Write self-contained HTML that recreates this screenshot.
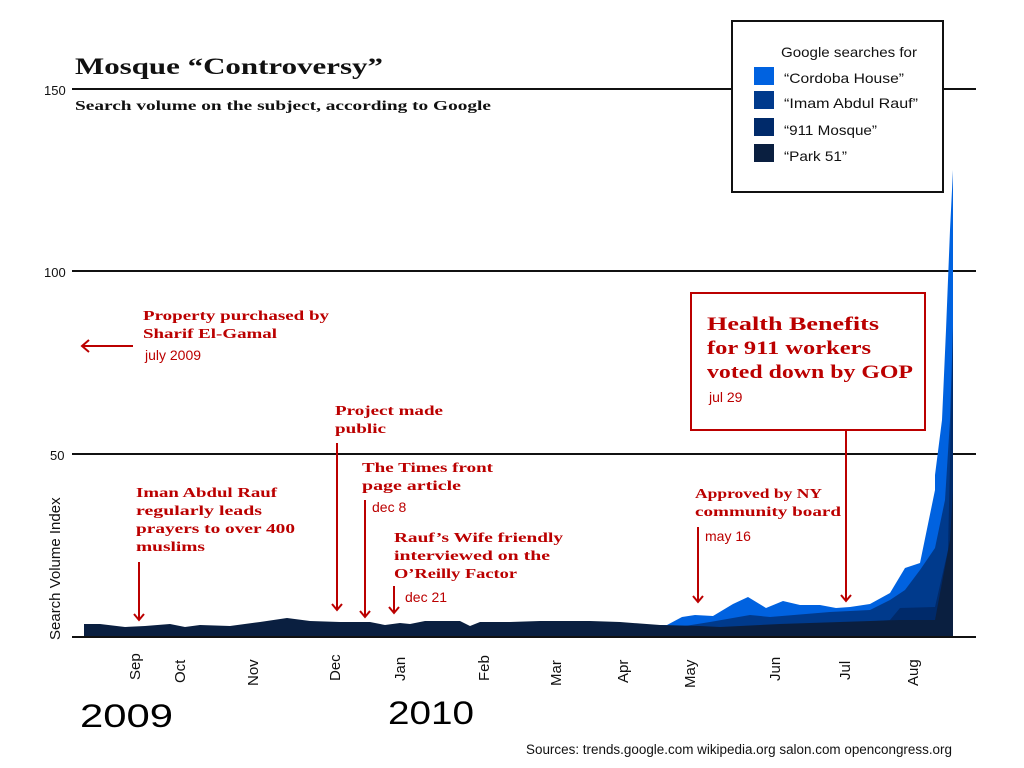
<!DOCTYPE html>
<html><head><meta charset="utf-8"><style>
html,body{margin:0;padding:0;background:#fff;}
svg{display:block;}
.s{font-family:"Liberation Serif",serif;font-weight:bold;}
.h{font-family:"Liberation Sans",sans-serif;}
.r{fill:#bb0000;}
</style></head><body>
<svg width="1024" height="768" viewBox="0 0 1024 768" xmlns="http://www.w3.org/2000/svg">
<g stroke="#111" stroke-width="2" fill="none">
<line x1="72" y1="89" x2="976" y2="89"/>
<line x1="72" y1="271" x2="976" y2="271"/>
<line x1="72" y1="454" x2="976" y2="454"/>
</g>
<g class="h" font-size="13" fill="#111">
<text x="44" y="95">150</text><text x="44" y="277">100</text><text x="50" y="460">50</text>
</g>
<text x="60" y="640" class="h" font-size="15" fill="#111" transform="rotate(-90 60 640)">Search Volume Index</text>
<text x="75" y="74" class="s" font-size="23" fill="#111" textLength="308" lengthAdjust="spacingAndGlyphs">Mosque “Controversy”</text>
<text x="75" y="110" class="s" font-size="14" fill="#111" textLength="416" lengthAdjust="spacingAndGlyphs">Search volume on the subject, according to Google</text>
<!-- areas -->
<polygon fill="#0062e0" points="84,636 655,636 660,625 667,625 682,617 695,615 713,616 733,604 748,597 766,608 783,601 800,605 820,605 836,608 850,607 870,604 890,593 905,568 920,563 935,490 935,475 942,420 946,330 950,230 953,170 953,636"/>
<polygon fill="#003a8c" points="84,636 655,636 660,630 710,622 750,615 770,617 830,612 870,610 890,600 905,590 920,570 935,548 945,500 950,420 953,326 953,636"/>
<polygon fill="#002a6a" points="84,636 655,636 660,632 760,628 800,625 860,622 890,620 900,608 935,607 948,550 953,330 953,636"/>
<polygon fill="#0a1f40" points="84,636 84,624 100,624 125,627 145,626 170,624 185,627 200,625 230,626 260,622 287,618 310,621 340,622 370,622 385,625 400,623 410,624 425,621 460,621 470,626 480,622 510,622 540,621 590,621 620,622 660,625 700,626 720,627 780,624 840,622 900,620 935,620 950,540 953,490 953,636"/>
<line x1="72" y1="637" x2="976" y2="637" stroke="#111" stroke-width="2"/>
<!-- x labels -->
<g class="h" font-size="15" fill="#111">
<text transform="translate(140,680) rotate(-90)">Sep</text>
<text transform="translate(185,683) rotate(-90)">Oct</text>
<text transform="translate(258,686) rotate(-90)">Nov</text>
<text transform="translate(340,681) rotate(-90)">Dec</text>
<text transform="translate(405,681) rotate(-90)">Jan</text>
<text transform="translate(489,681) rotate(-90)">Feb</text>
<text transform="translate(561,686) rotate(-90)">Mar</text>
<text transform="translate(628,683) rotate(-90)">Apr</text>
<text transform="translate(695,688) rotate(-90)">May</text>
<text transform="translate(780,681) rotate(-90)">Jun</text>
<text transform="translate(850,680) rotate(-90)">Jul</text>
<text transform="translate(918,686) rotate(-90)">Aug</text>
</g>
<text x="80" y="727" class="h" font-size="32" fill="#000" textLength="93" lengthAdjust="spacingAndGlyphs">2009</text>
<text x="388" y="724" class="h" font-size="32" fill="#000" textLength="86" lengthAdjust="spacingAndGlyphs">2010</text>
<text x="526" y="754" class="h" font-size="13.5" fill="#111" textLength="426" lengthAdjust="spacingAndGlyphs">Sources: trends.google.com wikipedia.org salon.com opencongress.org</text>
<!-- legend -->
<rect x="732" y="21" width="211" height="171" fill="#fff" stroke="#111" stroke-width="2"/>
<text x="781" y="57" class="h" font-size="14" fill="#111" textLength="136" lengthAdjust="spacingAndGlyphs">Google searches for</text>
<rect x="754" y="67" width="20" height="18" fill="#0062e0"/><text x="784" y="83" class="h" font-size="14" fill="#111" textLength="120" lengthAdjust="spacingAndGlyphs">“Cordoba House”</text>
<rect x="754" y="91" width="20" height="18" fill="#003a8c"/><text x="784" y="108" class="h" font-size="14" fill="#111" textLength="134" lengthAdjust="spacingAndGlyphs">“Imam Abdul Rauf”</text>
<rect x="754" y="118" width="20" height="18" fill="#002a6a"/><text x="784" y="135" class="h" font-size="14" fill="#111" textLength="93" lengthAdjust="spacingAndGlyphs">“911 Mosque”</text>
<rect x="754" y="144" width="20" height="18" fill="#0a1f40"/><text x="784" y="161" class="h" font-size="14" fill="#111" textLength="63" lengthAdjust="spacingAndGlyphs">“Park 51”</text>
<!-- annotations -->
<g class="s r" font-size="14" lengthAdjust="spacingAndGlyphs">
<text x="143" y="320" textLength="186" lengthAdjust="spacingAndGlyphs">Property purchased by</text><text x="143" y="338" textLength="134" lengthAdjust="spacingAndGlyphs">Sharif El-Gamal</text>
<text x="136" y="497" textLength="141" lengthAdjust="spacingAndGlyphs">Iman Abdul Rauf</text><text x="136" y="515" textLength="126" lengthAdjust="spacingAndGlyphs">regularly leads</text><text x="136" y="533" textLength="159" lengthAdjust="spacingAndGlyphs">prayers to over 400</text><text x="136" y="551" textLength="69" lengthAdjust="spacingAndGlyphs">muslims</text>
<text x="335" y="415" textLength="108" lengthAdjust="spacingAndGlyphs">Project made</text><text x="335" y="433" textLength="51" lengthAdjust="spacingAndGlyphs">public</text>
<text x="362" y="472" textLength="131" lengthAdjust="spacingAndGlyphs">The Times front</text><text x="362" y="490" textLength="99" lengthAdjust="spacingAndGlyphs">page article</text>
<text x="394" y="542" textLength="169" lengthAdjust="spacingAndGlyphs">Rauf’s Wife friendly</text><text x="394" y="560" textLength="156" lengthAdjust="spacingAndGlyphs">interviewed on the</text><text x="394" y="578" textLength="123" lengthAdjust="spacingAndGlyphs">O’Reilly Factor</text>
<text x="695" y="498" textLength="127" lengthAdjust="spacingAndGlyphs">Approved by NY</text><text x="695" y="516" textLength="146" lengthAdjust="spacingAndGlyphs">community board</text>
</g>
<g class="h r" font-size="14">
<text x="145" y="360">july 2009</text>
<text x="372" y="512">dec 8</text>
<text x="405" y="602">dec 21</text>
<text x="705" y="541">may 16</text>
<text x="709" y="402">jul 29</text>
</g>
<rect x="691" y="293" width="234" height="137" fill="none" stroke="#bb0000" stroke-width="2"/>
<g class="s r" font-size="19">
<text x="707" y="330" textLength="172" lengthAdjust="spacingAndGlyphs">Health Benefits</text><text x="707" y="354" textLength="164" lengthAdjust="spacingAndGlyphs">for 911 workers</text><text x="707" y="378" textLength="206" lengthAdjust="spacingAndGlyphs">voted down by GOP</text>
</g>
<g stroke="#bb0000" stroke-width="2" fill="none">
<line x1="82" y1="346" x2="133" y2="346"/><polyline points="89,340 82,346 89,352"/>
<line x1="139" y1="562" x2="139" y2="620"/><polyline points="134,614 139,620 144,614"/>
<line x1="337" y1="443" x2="337" y2="610"/><polyline points="332,604 337,610 342,604"/>
<line x1="365" y1="500" x2="365" y2="617"/><polyline points="360,611 365,617 370,611"/>
<line x1="394" y1="586" x2="394" y2="613"/><polyline points="389,607 394,613 399,607"/>
<line x1="698" y1="527" x2="698" y2="602"/><polyline points="693,596 698,602 703,596"/>
<line x1="846" y1="430" x2="846" y2="601"/><polyline points="841,595 846,601 851,595"/>
</g>
</svg>
</body></html>
